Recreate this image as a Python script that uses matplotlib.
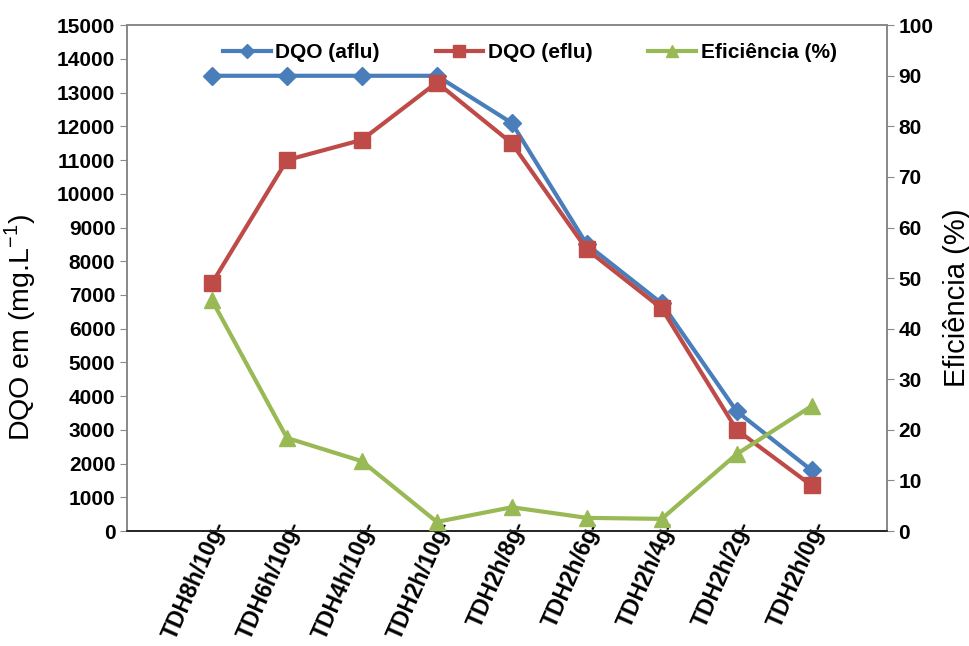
import matplotlib
matplotlib.use("Agg")
import matplotlib.pyplot as plt
from matplotlib.lines import Line2D
from matplotlib.transforms import ScaledTranslation

plt.rcParams['font.family'] = ['Liberation Sans', 'DejaVu Sans']

categories = ["TDH8h/10g-", "TDH6h/10g-", "TDH4h/10g-", "TDH2h/10g-", "TDH2h/8g-",
              "TDH2h/6g-", "TDH2h/4g-", "TDH2h/2g-", "TDH2h/0g-"]
dqo_aflu = [13500, 13500, 13500, 13500, 12100, 8500, 6750, 3550, 1800]
dqo_eflu = [7350, 11000, 11600, 13300, 11500, 8350, 6600, 3000, 1350]
eficiencia = [45.6, 18.4, 13.8, 1.8, 4.7, 2.6, 2.4, 15.2, 24.7]
left_ticks = list(range(0, 15001, 1000))
right_ticks = list(range(0, 101, 10))

blue = "#4A7EBB"
red = "#BE4B48"
green = "#98B954"

fig = plt.figure(figsize=(9.7, 6.46), dpi=100)
ax = fig.add_axes([0.131, 0.178, 0.783, 0.783])
ax2 = ax.twinx()

x = list(range(len(categories)))
ax.plot(x, dqo_aflu, color=blue, lw=3, marker="D", ms=9, zorder=3)
ax.plot(x, dqo_eflu, color=red, lw=3, marker="s", ms=11, zorder=4)
ax2.plot(x, eficiencia, color=green, lw=3, marker="^", ms=12, zorder=5)

ax.set_xlim(-85 / 75, 9.0)
ax.set_ylim(0, 15000)
ax2.set_ylim(0, 100)
ax.set_yticks(left_ticks)
ax2.set_yticks(right_ticks)
ax.set_xticks(x)
ax.set_xticklabels(categories, rotation=66, ha="right", va="center",
                   rotation_mode="anchor", fontsize=16.5, fontweight="bold")
ax.tick_params(axis="x", length=0, pad=0)
shift = ScaledTranslation(9 / 100, 9 / 100, fig.dpi_scale_trans)
for lab in ax.get_xticklabels():
    lab.set_transform(lab.get_transform() + shift)

ax.tick_params(axis="y", labelsize=15, length=5, color="#888888", direction="out")
ax2.tick_params(axis="y", labelsize=15, length=5, color="#888888", direction="out")
for lab in ax.get_yticklabels() + ax2.get_yticklabels():
    lab.set_fontweight("bold")

for a in (ax, ax2):
    for side in ("left", "right", "top"):
        a.spines[side].set_color("#888888")
        a.spines[side].set_linewidth(1.2)
    a.spines["bottom"].set_color("#222222")
    a.spines["bottom"].set_linewidth(1.2)

ax.set_ylabel(r"DQO em (mg.L$^{\mathregular{-1}}$)", fontsize=20.5)
ax.yaxis.set_label_coords(-0.117, 0.403)
ax2.set_ylabel("Eficiência (%)", fontsize=21)
ax2.yaxis.set_label_coords(1.074, 0.462)

handles = [
    Line2D([], [], color=blue, lw=3, marker="D", ms=7),
    Line2D([], [], color=red, lw=3, marker="s", ms=9),
    Line2D([], [], color=green, lw=3, marker="^", ms=9),
]
ax.legend(handles, ["DQO (aflu)", "DQO (eflu)", "Eficiência (%)"], ncol=3,
          loc="center", bbox_to_anchor=(0.53, 0.946), frameon=False,
          prop={"weight": "bold", "size": 15}, handlelength=2.3,
          columnspacing=2.7, handletextpad=0.2)

fig.savefig("out.png", dpi=100)
